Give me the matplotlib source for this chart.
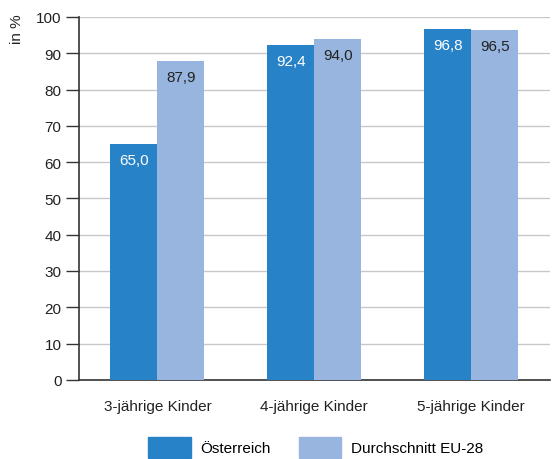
import numpy as np
import matplotlib.pyplot as plt
from matplotlib.patches import Patch

plt.rcParams['font.family'] = ['Liberation Sans', 'DejaVu Sans']

categories = ["3-jährige Kinder", "4-jährige Kinder", "5-jährige Kinder"]
austria = [65.0, 92.4, 96.8]
eu28 = [87.9, 94.0, 96.5]
series_names = ["Österreich", "Durchschnitt EU-28"]

dark_blue = "#2882c8"
light_blue = "#97b5de"
axis_col = "#333333"
fs = 11

fig = plt.figure(figsize=(5.52, 4.6), dpi=100)
ax = fig.add_axes([0.143, 0.172, 0.853, 0.789])

x = np.arange(len(categories))
w = 0.3
bars1 = ax.bar(x - w / 2, austria, w, color=dark_blue, zorder=3)
bars2 = ax.bar(x + w / 2, eu28, w, color=light_blue, zorder=3)

# value labels sit just inside the top of each bar
for b, v in zip(bars1, austria):
    ax.text(b.get_x() + b.get_width() / 2, v - 2.6, f"{v:.1f}".replace(".", ","),
            ha="center", va="top", color="white", fontsize=fs, zorder=4)
for b, v in zip(bars2, eu28):
    ax.text(b.get_x() + b.get_width() / 2, v - 2.6, f"{v:.1f}".replace(".", ","),
            ha="center", va="top", color="#222222", fontsize=fs, zorder=4)

ax.set_xlim(-0.5, 2.5)
ax.set_ylim(0, 100)
ax.set_yticks(range(0, 101, 10))
ax.set_xticks(x)
ax.set_xticklabels(categories, fontsize=fs, color="#222222")
ax.tick_params(axis="y", length=9.5, width=1, color=axis_col, labelsize=fs,
               labelcolor="#222222", pad=3)
ax.tick_params(axis="x", length=0, pad=14)
ax.yaxis.grid(True, color="#c8c8c8", linewidth=1, zorder=0)
for s in ["top", "right"]:
    ax.spines[s].set_visible(False)
ax.spines["left"].set_color(axis_col)
ax.spines["bottom"].set_color(axis_col)
ax.spines["left"].set_linewidth(1.2)
ax.spines["bottom"].set_linewidth(1.2)

fig.text(0.03, 0.968, "in %", rotation=90, ha="center", va="top", fontsize=fs,
         color="#222222")

handles = [Patch(color=dark_blue), Patch(color=light_blue)]
fig.legend(handles, series_names, loc="upper left", bbox_to_anchor=(0.268, 0.048),
           ncol=2, frameon=False, fontsize=fs, handlelength=2.8, handleheight=1.7,
           borderpad=0, borderaxespad=0, columnspacing=1.8, handletextpad=0.65)

fig.savefig("out.png", dpi=100)
